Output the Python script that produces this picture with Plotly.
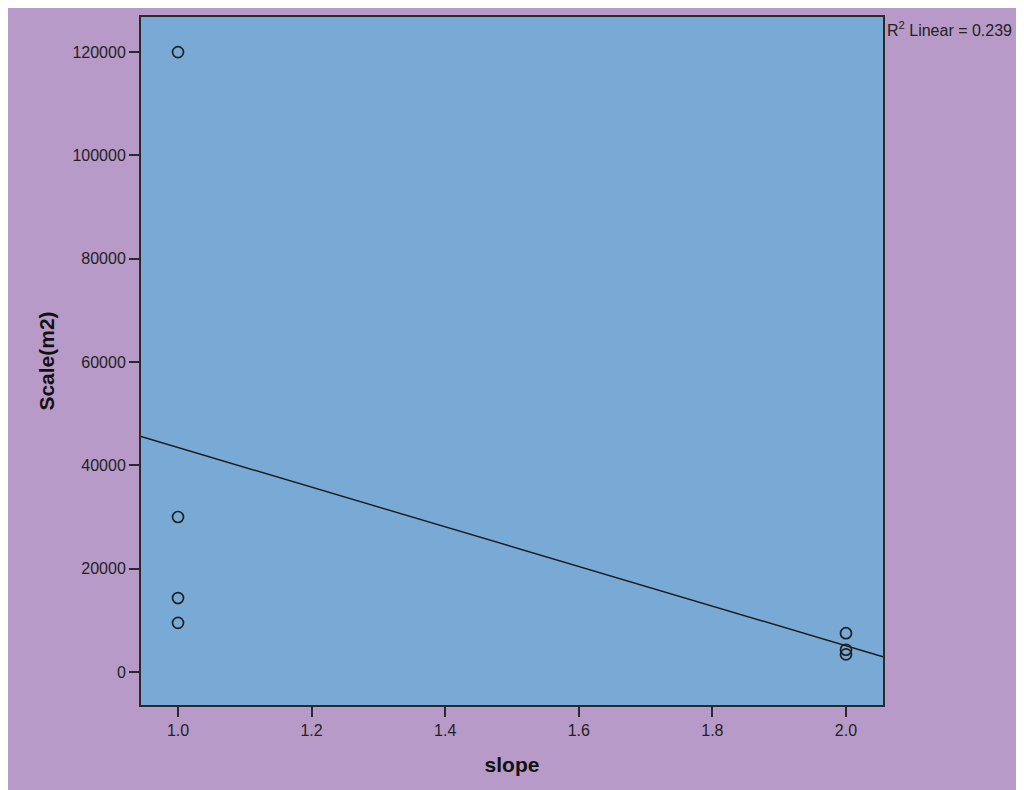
import numpy as np
import plotly.graph_objects as go

# data
slope = [1.0, 1.0, 1.0, 1.0, 2.0, 2.0, 2.0]
scale_m2 = [120000, 30000, 14300, 9500, 7500, 4300, 3400]

x_ticks = [1.0, 1.2, 1.4, 1.6, 1.8, 2.0]
y_ticks = [0, 20000, 40000, 60000, 80000, 100000, 120000]
x_range = [0.9446, 2.0554]
y_range = [-6400, 126800]
r2_label = "R<sup>2</sup> Linear = 0.239"

PURPLE = "#B89AC8"
BLUE = "#79A9D5"
INK = "#222222"
FONT = "Liberation Sans, Arial, sans-serif"

# linear fit line across the whole x range
b, a = np.polyfit(slope, scale_m2, 1)
fit_x = np.array(x_range)
fit_y = a + b * fit_x

fig = go.Figure()
fig.add_trace(go.Scatter(x=fit_x, y=fit_y, mode="lines",
                         line=dict(color="#1a1a1a", width=1.4),
                         hoverinfo="skip", showlegend=False))
fig.add_trace(go.Scatter(x=slope, y=scale_m2, mode="markers",
                         marker=dict(symbol="circle-open", size=11,
                                     color="#1f1f1f", line=dict(width=1.7)),
                         showlegend=False))

axis = dict(showline=True, linecolor="#2a2a2a", linewidth=2, mirror=True,
            showgrid=False, zeroline=False, ticks="outside", ticklen=10,
            tickwidth=2, tickcolor="#2a2a2a", automargin=False,
            tickfont=dict(family=FONT, size=16, color=INK))

fig.update_xaxes(**axis, range=x_range, tickvals=x_ticks,
                 ticktext=[f"{v:.1f}" for v in x_ticks],
                 title=dict(text="<b>slope</b>", standoff=19,
                            font=dict(family=FONT, size=21, color="#111111")))
fig.update_yaxes(**axis, range=y_range, tickvals=y_ticks,
                 ticktext=[str(v) for v in y_ticks],
                 title=dict(text="<b>Scale(m2)</b>", standoff=12,
                            font=dict(family=FONT, size=21, color="#111111")))

fig.update_layout(
    width=1016, height=782,
    margin=dict(l=133, r=141, t=9, b=85),
    paper_bgcolor=PURPLE, plot_bgcolor=BLUE,
    font=dict(family=FONT, color=INK),
    annotations=[dict(text=r2_label, xref="paper", yref="paper",
                      x=1.0027, y=0.982, xanchor="left", yanchor="middle",
                      showarrow=False,
                      font=dict(family=FONT, size=16, color=INK))],
)

fig.write_html("out.html")
